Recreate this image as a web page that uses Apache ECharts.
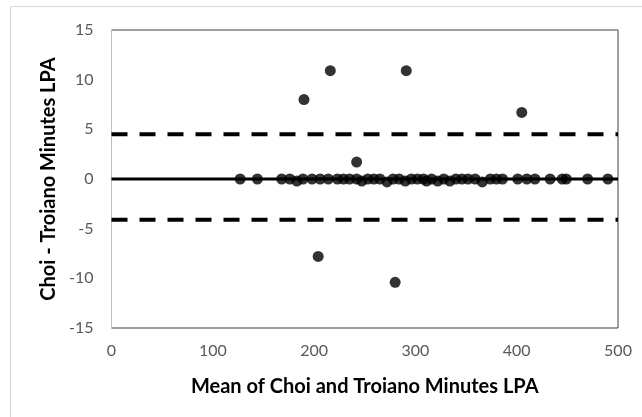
<!DOCTYPE html>
<html>
<head>
<meta charset="utf-8">
<script src="https://cdn.jsdelivr.net/npm/echarts@6/dist/echarts.min.js"></script>
<style>
  html, body { margin: 0; padding: 0; background: #fff; }
  #chart { width: 642px; height: 417px; }
</style>
</head>
<body>
<div id="chart"></div>
<script>
// Bland-Altman plot: Choi vs Troiano minutes of light physical activity (LPA)

// Mean of the two methods (x) and their difference (y) for each participant
const meanMinutes = [
  127, 144, 168, 176, 183, 189, 198, 206, 214, 223, 229, 235, 242, 247, 253,
  259, 265, 272, 278, 284, 290, 296, 302, 308, 311, 316, 322, 328, 334, 340,
  346, 352, 359, 366, 374, 380, 386, 401, 410, 418, 433, 445, 449, 470, 490,
  190, 216, 291, 405, 242, 204, 280
];
const diffMinutes = [
  0, 0, 0, 0, -0.2, 0, 0, 0, 0, 0, 0, 0, 0, -0.2, 0,
  0, 0, -0.3, 0, 0, -0.2, 0, 0, 0, -0.2, 0, -0.2, 0, -0.2, 0,
  0, 0, 0, -0.3, 0, 0, 0, 0, 0, 0, 0, 0, 0, 0, 0,
  8.0, 10.9, 10.9, 6.7, 1.7, -7.8, -10.4
];

// Mean difference and 95% limits of agreement
const biasLine = [0, 0];
const upperLimit = [4.5, 4.5];
const lowerLimit = [-4.1, -4.1];
const lineSpan = [0, 500];

// Axis ticks
const xTicks = [0, 100, 200, 300, 400, 500];
const yTicks = [-15, -10, -5, 0, 5, 10, 15];

const points = meanMinutes.map((x, i) => [x, diffMinutes[i]]);
const toLine = vals => lineSpan.map((x, i) => [x, vals[i]]);

const font = 'Lato, "Open Sans", sans-serif';

const chart = echarts.init(document.getElementById('chart'), null, { renderer: 'canvas' });
chart.setOption({
  animation: false,
  backgroundColor: '#ffffff',
  graphic: [{
    type: 'rect',
    silent: true,
    z: -10,
    shape: { x: 10.5, y: 6.5, width: 700, height: 500 },
    style: { fill: 'none', stroke: '#d9d9d9', lineWidth: 1 }
  }],
  grid: {
    left: 111.5, right: 24, top: 30, bottom: 89,
    show: true, borderColor: '#404040', borderWidth: 1, backgroundColor: 'transparent'
  },
  xAxis: {
    type: 'value',
    min: xTicks[0], max: xTicks[xTicks.length - 1], interval: 100,
    axisLine: { show: false },
    axisTick: { show: false },
    splitLine: { show: false },
    axisLabel: { color: '#595959', fontSize: 16, fontFamily: font, margin: 15 },
    name: 'Mean of Choi and Troiano Minutes LPA',
    nameLocation: 'middle',
    nameGap: 49,
    nameTextStyle: { color: '#000', fontSize: 20, fontWeight: 'bold', fontFamily: font }
  },
  yAxis: {
    type: 'value',
    min: yTicks[0], max: yTicks[yTicks.length - 1], interval: 5,
    axisLine: { show: true, onZero: false, lineStyle: { color: '#bfbfbf', width: 1 } },
    axisTick: { show: false },
    splitLine: { show: false },
    axisLabel: { color: '#595959', fontSize: 16, fontFamily: font, margin: 18 },
    name: 'Choi - Troiano Minutes LPA',
    nameLocation: 'middle',
    nameGap: 46,
    nameTextStyle: { color: '#000', fontSize: 20, fontWeight: 'bold', fontFamily: font }
  },
  series: [
    {
      type: 'line', data: toLine(upperLimit), symbol: 'none', silent: true,
      lineStyle: { color: '#000', width: 4, type: [16, 12], cap: 'butt' }
    },
    {
      type: 'line', data: toLine(lowerLimit), symbol: 'none', silent: true,
      lineStyle: { color: '#000', width: 4, type: [16, 12], cap: 'butt' }
    },
    {
      type: 'line', data: toLine(biasLine), symbol: 'none', silent: true,
      lineStyle: { color: '#000', width: 3 }
    },
    {
      type: 'scatter', data: points, symbol: 'circle', symbolSize: 11,
      itemStyle: { color: '#000' }
    }
  ]
});
</script>
</body>
</html>
